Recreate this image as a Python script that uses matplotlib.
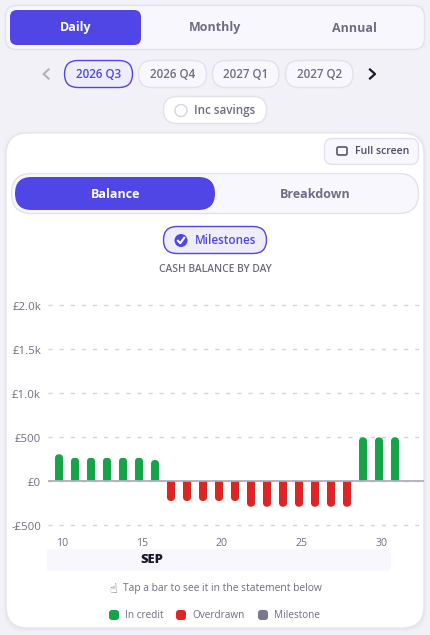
import matplotlib
matplotlib.use("Agg")
import matplotlib.pyplot as plt
from matplotlib.patches import FancyBboxPatch, Rectangle, Circle
from matplotlib.path import Path
from matplotlib.transforms import ScaledTranslation

plt.rcParams['font.family'] = ['Open Sans', 'DejaVu Sans']

W, H = 430, 635

# chart data
days = list(range(10, 32))
balance = [298, 260, 260, 260, 260, 260, 233, -233, -233, -233, -233, -233,
           -298, -298, -298, -298, -298, -298, -298, 490, 490, 490]
y_ticks = [-500, 0, 500, 1000, 1500, 2000]
y_labels = ['-£500', '£0', '£500', '£1.0k', '£1.5k', '£2.0k']
x_ticks = [10, 15, 20, 25, 30]
period_tabs = ['Daily', 'Monthly', 'Annual']
quarters = ['2026 Q3', '2026 Q4', '2027 Q1', '2027 Q2']
legend_names = ['In credit', 'Overdrawn', 'Milestone']

BG = '#F2F1F7'
PANEL = '#F8F7FD'
EDGE = '#E2E1EC'
INDIGO = '#4F46E5'
TINT = '#EEEDFB'
GREY = '#6F6D85'
GREEN = '#16A34A'
RED = '#DC2626'
MILE = '#7A7890'

fig = plt.figure(figsize=(W / 100, H / 100), dpi=100, facecolor=BG)

# page furniture, drawn in pixel coordinates
ui = fig.add_axes([0, 0, 1, 1], zorder=0)
ui.set_xlim(0, W)
ui.set_ylim(H, 0)
ui.axis('off')


def box(x0, y0, x1, y1, r, fc, ec='none', lw=1.0, **kw):
    p = FancyBboxPatch((x0 + r, y0 + r), x1 - x0 - 2 * r, y1 - y0 - 2 * r,
                       boxstyle=f'round,pad={r},rounding_size={r}',
                       fc=fc, ec=ec, lw=lw, **kw)
    ui.add_patch(p)
    return p


def label(x, y, s, size=9.4, color=GREY, weight='normal', ha='center'):
    ui.text(x, y, s, fontsize=size, color=color, fontweight=weight, ha=ha, va='center')


# period tabs
box(5.5, 5.5, 424.5, 49.5, 11, PANEL, EDGE)
box(10, 10, 141, 45, 7, INDIGO)
for tx, name, col in zip([76, 215, 354], period_tabs, ['white', GREY, GREY]):
    label(tx, 28, name, 9.0, col, 'bold')

# quarter pills
pills = [(64.5, 132.5), (138.5, 206.5), (212.5, 279), (285.5, 353)]
for i, ((x0, x1), q) in enumerate(zip(pills, quarters)):
    if i == 0:
        box(x0, 60.5, x1, 87.5, 13.5, TINT, INDIGO)
        label((x0 + x1) / 2, 74, q, 8.4, INDIGO, 'semibold')
    else:
        box(x0, 60.5, x1, 87.5, 13.5, PANEL, EDGE)
        label((x0 + x1) / 2, 74, q, 8.4, GREY, 'semibold')
ui.plot([48.5, 43.5, 48.5], [69.5, 74, 78.5], color='#B4B3C2', lw=1.6)
ui.plot([370, 375, 370], [69.5, 74, 78.5], color='#1A1A2E', lw=1.6)

# savings toggle
box(163.5, 96.5, 266.5, 123.5, 13.5, 'white', EDGE)
ui.add_patch(Circle((181, 110.5), 6, fc='white', ec='#D5D4E0', lw=1))
label(194, 110.5, 'Inc savings', 8.4, GREY, 'semibold', ha='left')

# card with a soft shadow
for grow, alpha in [(3, 0.03), (2, 0.05), (1, 0.08)]:
    box(6 - grow, 133 - grow + 1, 424 + grow, 628 + grow + 1, 22, '#B9B8CC', alpha=alpha)
box(6, 133, 424, 628, 22, 'white', '#E6E5EE')

# full screen button
box(324.5, 138.5, 418.5, 164.5, 8, PANEL, EDGE)
box(337, 147, 347, 155, 1.5, 'none', '#4A4960', 1.1)
label(355, 152, 'Full screen', 7.6, '#4A4960', 'semibold', ha='left')

# view toggle
box(11.5, 173.5, 418.5, 213.5, 20, PANEL, EDGE)
box(15, 177, 215, 210, 16.5, INDIGO)
label(116, 194, 'Balance', 9.0, 'white', 'bold')
label(315, 194, 'Breakdown', 9.0, GREY, 'bold')

# milestones toggle
box(163.5, 226.5, 266.5, 253.5, 13.5, TINT, INDIGO)
ui.add_patch(Circle((181, 240.5), 6.5, fc=INDIGO, ec='none'))
ui.plot([178, 180.3, 184.2], [240.8, 243.2, 237.8], color='white', lw=1.5)
label(195, 240.5, 'Milestones', 8.4, INDIGO, 'semibold', ha='left')

label(215, 269, 'CASH BALANCE BY DAY', 7.4, GREY, 'semibold')

# month band under the axis
box(47, 549, 391, 571, 6, PANEL)
ui.add_patch(Rectangle((47, 549), 12, 22, fc=PANEL, ec='none'))
label(152, 560, 'SEP', 9.4, '#1A1A2E', 800)

# hint
ui.text(113, 589.5, '\u261d', fontsize=9, color='#55546A', ha='center', va='center',
        family='DejaVu Sans')
label(123, 589, 'Tap a bar to see it in the statement below', 7.4, GREY, ha='left')

# legend
for kx, tx, name, col in zip([109, 176, 258], [125, 192, 274], legend_names, [GREEN, RED, MILE]):
    box(kx, 610, kx + 10, 620, 3, col)
    label(tx, 616, name, 7.2, GREY, ha='left')

# chart axes: 16 px per day, 44 px per 500
ax_l, ax_r, ax_t, ax_b = 48, 424, 295, 535
ax = fig.add_axes([ax_l / W, 1 - ax_b / H, (ax_r - ax_l) / W, (ax_b - ax_t) / H], zorder=1)
ax.patch.set_alpha(0)
ax.set_xlim(10 + (ax_l - 59) / 16, 10 + (ax_r - 59) / 16)
ax.set_ylim((480.5 - ax_b) * 500 / 44, (480.5 - ax_t) * 500 / 44)
for s in ax.spines.values():
    s.set_visible(False)

ax.set_yticks(y_ticks, y_labels, fontsize=8.2, color=GREY)
ax.set_xticks(x_ticks, [str(d) for d in x_ticks], fontsize=7.6, color=GREY)
ax.tick_params(axis='y', length=0, pad=5)
ax.tick_params(axis='x', length=0, pad=2)
# labels in the reference sit a little off their ticks
shift_x = ScaledTranslation(2.7 / 100, 0, fig.dpi_scale_trans)
for t in ax.get_xticklabels():
    t.set_transform(t.get_transform() + shift_x)
shift_y = ScaledTranslation(0, -1 / 100, fig.dpi_scale_trans)
for t in ax.get_yticklabels():
    t.set_transform(t.get_transform() + shift_y)
ax.grid(axis='y', color='#D3D3DC', lw=1, dashes=(3, 5))
ax.set_axisbelow(True)

bar_w = 0.5
rx = bar_w / 2
ry = 4 * 500 / 44
bars = ax.bar(days, balance, width=bar_w,
              color=[GREEN if v >= 0 else RED for v in balance], zorder=2)
# round the free end of each bar
for b, d, v in zip(bars, days, balance):
    sgn = 1 if v >= 0 else -1
    x0, x1 = d - rx, d + rx
    verts = [(x0, 0), (x0, v - sgn * ry), (x0, v), (d, v), (x1, v), (x1, v - sgn * ry), (x1, 0), (x0, 0)]
    codes = [Path.MOVETO, Path.LINETO, Path.CURVE3, Path.CURVE3, Path.CURVE3, Path.CURVE3,
             Path.LINETO, Path.CLOSEPOLY]
    b.set_clip_path(Path(verts, codes), ax.transData)
ax.axhline(0, color='#A9A8BA', lw=1.2, zorder=3)

fig.savefig('out.png', dpi=100, facecolor=BG)
